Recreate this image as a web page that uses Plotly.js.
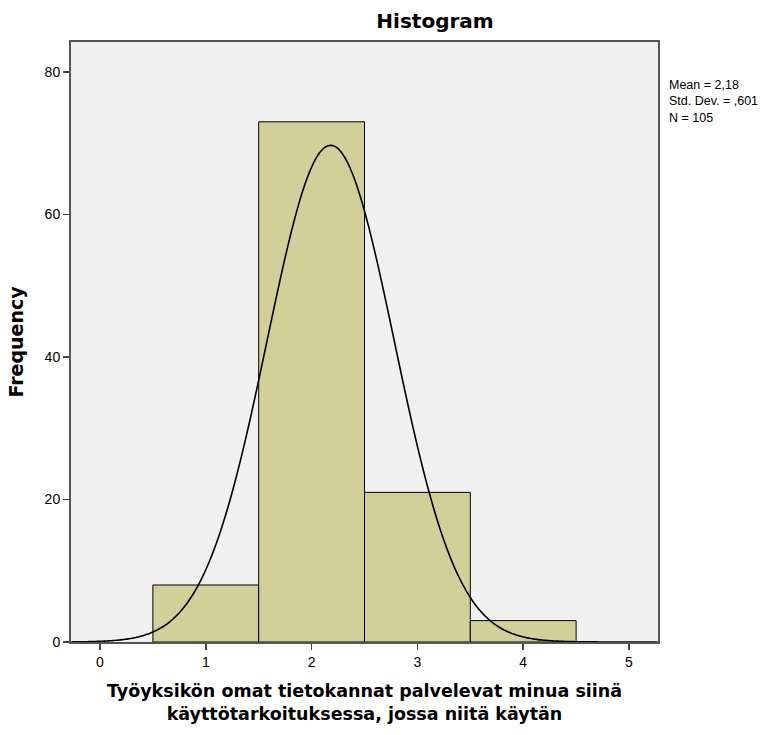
<!DOCTYPE html>
<html>
<head>
<meta charset="utf-8">
<script src="https://cdn.plot.ly/plotly-3.0.1.min.js"></script>
<style>html,body{margin:0;padding:0;background:#fff;}</style>
</head>
<body>
<div id="chart" style="width:779px;height:735px;"></div>
<script>
const binCenters = [1, 2, 3, 4];
const frequencies = [8, 73, 21, 3];
const xTickVals = [0, 1, 2, 3, 4, 5];
const yTickVals = [0, 20, 40, 60, 80];
const MEAN = 2.18;
const SD = 0.601;
const N = 105;
const BIN_WIDTH = 1;

// Normal curve overlay implied by the stated Mean, Std. Dev. and N
const curveX = [];
const curveY = [];
for (let i = 0; i <= 300; i++) {
  const x = -0.27 + i * (5.54 / 300);
  curveX.push(x);
  curveY.push(N * BIN_WIDTH * Math.exp(-0.5 * Math.pow((x - MEAN) / SD, 2)) / (SD * Math.sqrt(2 * Math.PI)));
}

const boldFont = '"DejaVu Sans", Verdana, sans-serif';

const traces = [
  {
    type: 'bar',
    x: binCenters,
    y: frequencies,
    width: 1,
    marker: {color: '#d3cf98', line: {color: '#000000', width: 1}},
    hoverinfo: 'x+y',
    showlegend: false
  },
  {
    type: 'scatter',
    mode: 'lines',
    x: curveX,
    y: curveY,
    line: {color: '#000000', width: 1.6, shape: 'spline'},
    hoverinfo: 'skip',
    showlegend: false
  }
];

const layout = {
  width: 779,
  height: 735,
  margin: {l: 71, r: 121, t: 42, b: 93},
  paper_bgcolor: '#ffffff',
  plot_bgcolor: '#f0f0f0',
  font: {family: 'Arial, "Liberation Sans", sans-serif', color: '#000000', size: 14},
  title: {
    text: '<b>Histogram</b>',
    font: {size: 20, color: '#000000', family: boldFont},
    x: 435 / 779, xref: 'container', xanchor: 'center',
    y: 1, yref: 'container', yanchor: 'top', pad: {t: 14}
  },
  bargap: 0,
  xaxis: {
    range: [-0.274, 5.274],
    tickvals: xTickVals,
    ticktext: xTickVals.map(String),
    ticks: 'outside', ticklen: 6, tickwidth: 1.5, tickcolor: '#444',
    showgrid: false, zeroline: false,
    showline: true, linecolor: '#555', linewidth: 2, mirror: true,
    tickfont: {size: 14},
    title: {
      text: '<b>Työyksikön omat tietokannat palvelevat minua siinä<br>käyttötarkoituksessa, jossa niitä käytän</b>',
      font: {size: 17.5, family: boldFont}, standoff: 16
    }
  },
  yaxis: {
    range: [0, 84.2],
    tickvals: yTickVals,
    ticks: 'outside', ticklen: 6, tickwidth: 1.5, tickcolor: '#444',
    showgrid: false, zeroline: false,
    showline: true, linecolor: '#555', linewidth: 2, mirror: true,
    tickfont: {size: 14},
    title: {text: '<b>Frequency</b>', font: {size: 19, family: boldFont}, standoff: 16}
  },
  annotations: [
    {
      xref: 'paper', yref: 'paper', x: 1.015, y: 0.943,
      xanchor: 'left', yanchor: 'top', align: 'left', showarrow: false,
      text: 'Mean = 2,18<br>Std. Dev. = ,601<br>N = 105',
      font: {size: 12.5, color: '#000000'}
    }
  ]
};

Plotly.newPlot('chart', traces, layout, {displayModeBar: false, staticPlot: true});
</script>
</body>
</html>
